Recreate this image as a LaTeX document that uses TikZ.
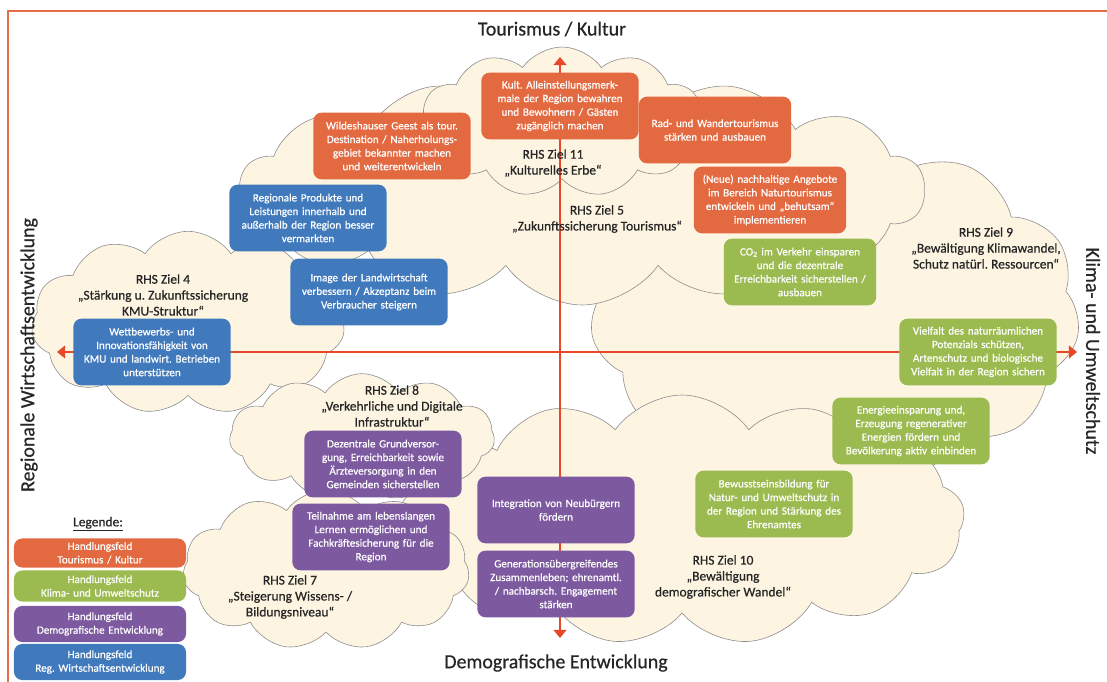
\documentclass[tikz,border=0pt]{standalone}
\usepackage{fontspec}
\setmainfont{Carlito}[FakeBold=0.6]
\usepackage{tikz}
\usetikzlibrary{arrows.meta, shapes.symbols}
\definecolor{feldorange}{RGB}{227,105,64}
\definecolor{feldgruen}{RGB}{155,187,81}
\definecolor{feldlila}{RGB}{125,90,160}
\definecolor{feldblau}{RGB}{64,122,188}
\definecolor{wolkenbeige}{RGB}{253,244,226}
\definecolor{wolkengrau}{RGB}{140,140,140}
\definecolor{pfeilrot}{RGB}{232,72,40}
\definecolor{rahmenorange}{RGB}{231,108,72}
\definecolor{schrift}{RGB}{38,38,38}
\frenchspacing

\begin{document}
\begin{tikzpicture}[x=0.03cm, y=-0.03cm,
    wolke/.style={cloud, cloud puffs=11, cloud puff arc=110, cloud ignores aspect, draw=wolkengrau, line width=0.5pt, fill=wolkenbeige},
    feld/.style={rounded corners=7pt, text=white, align=center, inner sep=1pt, minimum width=4.72cm, minimum height=2cm, text width=4.5cm, font=\fontsize{9.5}{11.6}\selectfont},
    leg/.style={feld, minimum width=5.16cm, text width=5cm, inner ysep=0.5pt},
    ziel/.style={text=schrift, align=center, font=\fontsize{11.5}{13.6}\selectfont},
    achse/.style={text=schrift, font=\fontsize{17}{20}\selectfont},
    pfeil/.style={{Triangle[length=7pt,width=11pt]}-{Triangle[length=7pt,width=11pt]}, draw=pfeilrot, line width=1.6pt}]
    \useasboundingbox (0,0) rectangle (1107,682);
    \draw[rahmenorange, line width=1.6pt] (8,682) -- (8,11) -- (1107,11);

    \node[wolke, cloud puffs=11, minimum width=14.7cm, minimum height=10.4cm] (w9) at (835,312) {};
    \node[wolke, cloud puffs=13, minimum width=16.95cm, minimum height=7.5cm] (w10) at (682,520) {};
    \node[wolke, cloud puffs=14, minimum width=20.55cm, minimum height=6.9cm] (w5) at (582,190) {};
    \node[wolke, minimum width=8.55cm, minimum height=4.5cm] (w11) at (562,122) {};
    \node[wolke, minimum width=9.4cm, minimum height=5.5cm] (w4) at (188,323) {};
    \node[wolke, minimum width=7.95cm, minimum height=3.8cm] (w8) at (362,437) {};
    \node[wolke, minimum width=8.6cm, minimum height=4.8cm] (w7) at (326,570) {};

    \coordinate (oben) at (560,57);
    \coordinate (unten) at (560,638);
    \coordinate (links) at (57,352);
    \coordinate (rechts) at (1077,352);
    \draw[pfeil] (unten) -- (oben);
    \draw[pfeil] (links) -- (rechts);

    \node[achse] (tk) at (552,29) {Tourismus / Kultur};
    \node[achse] (de) at (556,663) {Demografische Entwicklung};
    \node[achse, rotate=90] (rw) at (29,355) {Regionale Wirtschaftsentwicklung};
    \node[achse, rotate=-90] (ku) at (1093,351) {Klima- und Umweltschutz};

    \node[ziel] (z11) at (553,163) {RHS Ziel 11\\„Kulturelles Erbe“};
    \node[ziel] (z5) at (597,219) {RHS Ziel 5\\„Zukunftssicherung Tourismus“};
    \node[ziel] (z9) at (986,248) {RHS Ziel 9\\„Bewältigung Klimawandel,\\Schutz natürl. Ressourcen“};
    \node[ziel] (z4) at (163,295) {RHS Ziel 4\\„Stärkung u. Zukunftssicherung\\KMU-Struktur“};
    \node[ziel] (z8) at (392,406) {RHS Ziel 8\\„Verkehrliche und Digitale\\Infrastruktur“};
    \node[ziel] (z7) at (290,597) {RHS Ziel 7\\„Steigerung Wissens- /\\Bildungsniveau“};
    \node[ziel] (z10) at (723,577) {RHS Ziel 10\\„Bewältigung\\demografischer Wandel“};

    \node[feld, fill=feldorange] (wg) at (392,146) {Wildeshauser Geest als tour.\\Destination / Naherholungs-\\gebiet bekannter machen\\und weiterentwickeln};
    \node[feld, fill=feldorange] (ka) at (560,106) {Kult. Alleinstellungsmerk-\\male der Region bewahren\\und Bewohnern / Gästen\\zugänglich machen};
    \node[feld, fill=feldorange, minimum width=4.53cm] (rw1) at (715,130) {Rad- und Wandertourismus\\stärken und ausbauen};
    \node[feld, fill=feldorange, minimum width=4.53cm] (na) at (770,200) {(Neue) nachhaltige Angebote\\im Bereich Naturtourismus\\entwickeln und „behutsam“\\implementieren};
    \node[feld, fill=feldgruen, minimum width=4.5cm] (co) at (800,272) {CO\textsubscript{2} im Verkehr einsparen\\und die dezentrale\\Erreichbarkeit sicherstellen /\\ausbauen};
    \node[feld, fill=feldgruen] (vf) at (978,352) {Vielfalt des naturräumlichen\\Potenzials schützen,\\Artenschutz und biologische\\Vielfalt in der Region sichern};
    \node[feld, fill=feldgruen] (ee) at (911,431) {Energieeinsparung und,\\Erzeugung regenerativer\\Energien fördern und\\Bevölkerung aktiv einbinden};
    \node[feld, fill=feldgruen] (bb) at (774,504) {Bewusstseinsbildung für\\Natur- und Umweltschutz in\\der Region und Stärkung des\\Ehrenamtes};
    \node[feld, fill=feldblau] (rp) at (308,218) {Regionale Produkte und\\Leistungen innerhalb und\\außerhalb der Region besser\\vermarkten};
    \node[feld, fill=feldblau] (il) at (369,292) {Image der Landwirtschaft\\verbessern / Akzeptanz beim\\Verbraucher steigern};
    \node[feld, fill=feldblau] (wi) at (152,352) {Wettbewerbs- und\\Innovationsfähigkeit von\\KMU und landwirt. Betrieben\\unterstützen};
    \node[feld, fill=feldlila] (dg) at (383,464) {Dezentrale Grundversor-\\gung, Erreichbarkeit sowie\\Ärzteversorgung in den\\Gemeinden sicherstellen};
    \node[feld, fill=feldlila] (tl) at (371,537) {Teilnahme am lebenslangen\\Lernen ermöglichen und\\Fachkräftesicherung für die\\Region};
    \node[feld, fill=feldlila] (in) at (556,510) {Integration von Neubürgern\\fördern};
    \node[feld, fill=feldlila] (gz) at (556,584) {Generationsübergreifendes\\Zusammenleben; ehrenamtl.\\/ nachbarsch. Engagement\\stärken};

    % Legende
    \node[text=schrift, font=\fontsize{11.5}{13}\selectfont] (lg) at (98,524) {\underline{Legende:}};
    \node[leg, fill=feldorange, minimum height=0.87cm] (l1) at (100,553) {Handlungsfeld\\Tourismus / Kultur};
    \node[leg, fill=feldgruen, minimum height=0.93cm] (l2) at (100,586) {Handlungsfeld\\Klima- und Umweltschutz};
    \node[leg, fill=feldlila, minimum height=1.08cm] (l3) at (100,624) {Handlungsfeld\\Demografische Entwicklung};
    \node[leg, fill=feldblau, minimum height=1.08cm] (l4) at (100,662) {Handlungsfeld\\Reg. Wirtschaftsentwicklung};
\end{tikzpicture}
\end{document}
